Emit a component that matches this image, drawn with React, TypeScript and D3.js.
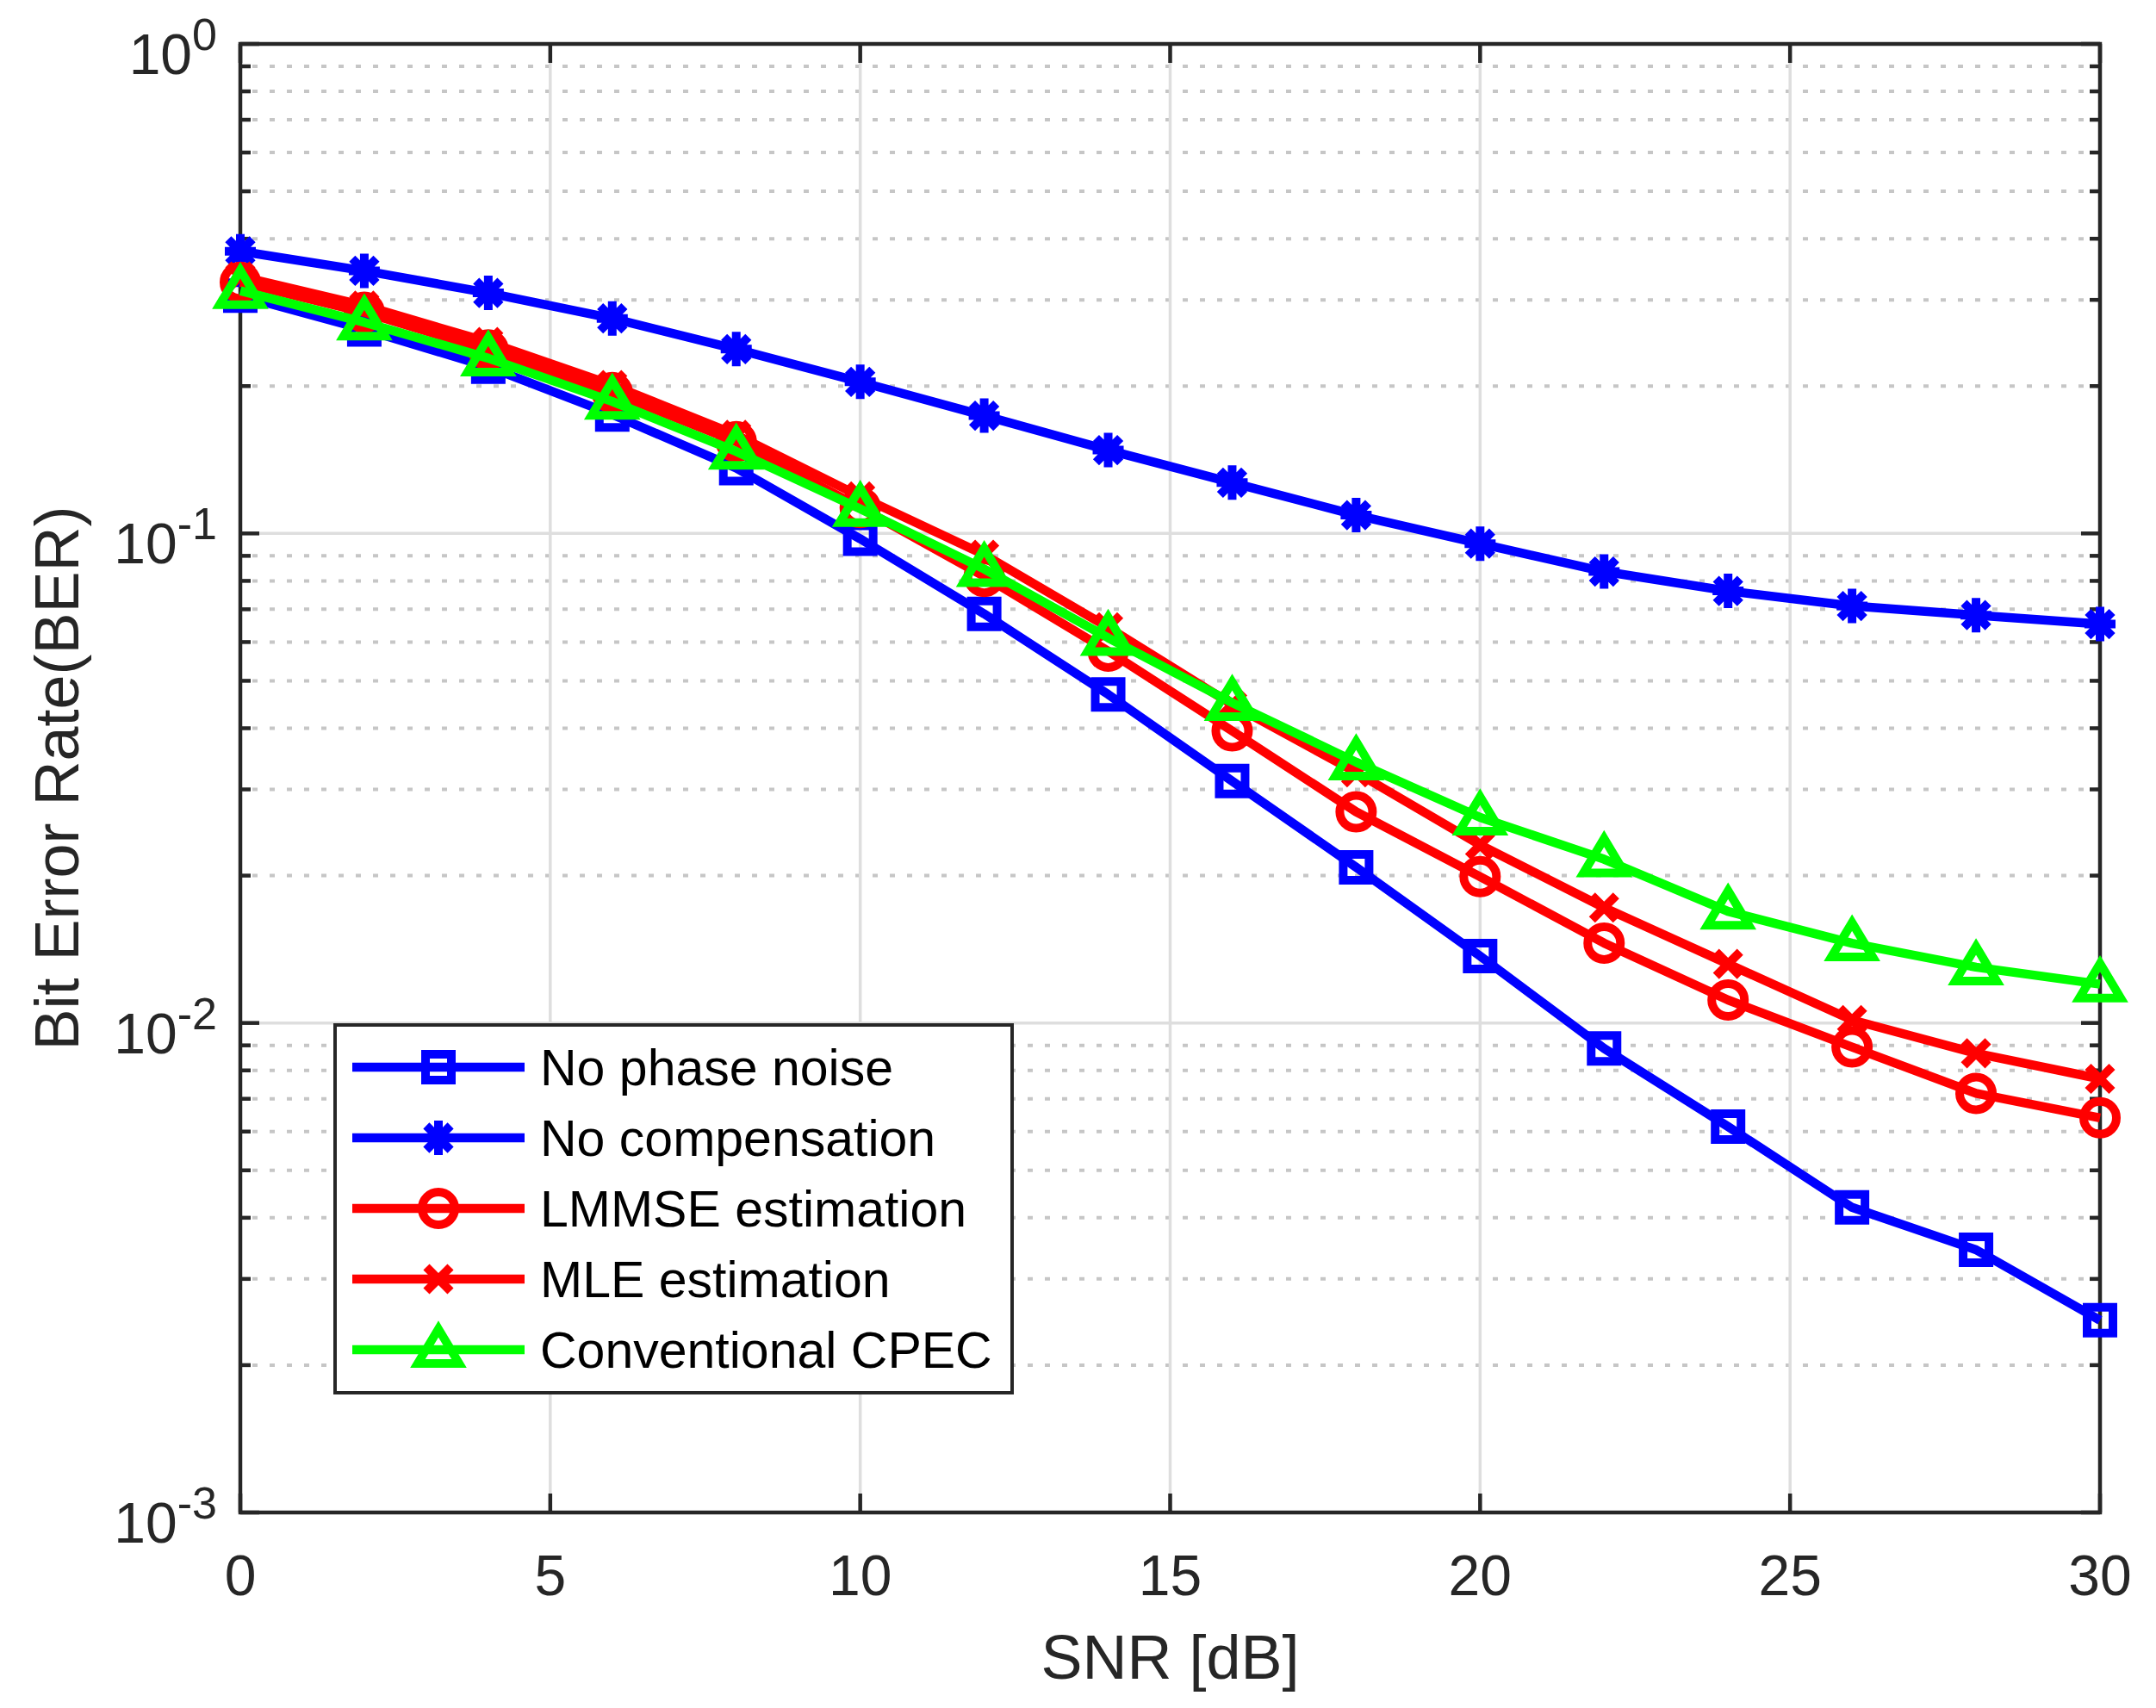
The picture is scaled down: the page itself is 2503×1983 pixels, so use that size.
import React, { useRef, useEffect } from 'react';
import * as d3 from 'd3';

const snrDb = [0, 2, 4, 6, 8, 10, 12, 14, 16, 18, 20, 22, 24, 26, 28, 30];
const noPhaseNoise = [0.306, 0.261, 0.219, 0.175, 0.136, 0.0975, 0.0685, 0.0469, 0.0312, 0.0208, 0.0137, 0.00887, 0.00614, 0.0042, 0.00344, 0.00247];
const noCompensation = [0.377, 0.344, 0.31, 0.275, 0.238, 0.204, 0.174, 0.148, 0.127, 0.109, 0.0953, 0.0836, 0.0763, 0.0711, 0.0681, 0.0653];
const lmmseEst = [0.326, 0.283, 0.237, 0.194, 0.154, 0.113, 0.0817, 0.0575, 0.0395, 0.027, 0.0199, 0.01456, 0.01114, 0.00893, 0.00718, 0.0064];
const mleEst = [0.335, 0.292, 0.246, 0.201, 0.159, 0.119, 0.0905, 0.0643, 0.0447, 0.0325, 0.0231, 0.0172, 0.0132, 0.01014, 0.00867, 0.00769];
const conventionalCpec = [0.313, 0.27, 0.228, 0.186, 0.147, 0.1123, 0.0846, 0.0612, 0.0451, 0.0341, 0.0263, 0.0216, 0.0169, 0.01455, 0.013, 0.012];

const seriesNames = ['No phase noise', 'No compensation', 'LMMSE estimation', 'MLE estimation', 'Conventional CPEC'];
const seriesColors = ['#0000ff', '#0000ff', '#ff0000', '#ff0000', '#00ff00'];
const seriesMarkers = ['square', 'asterisk', 'circle', 'cross', 'triangle'];
const seriesValues = [noPhaseNoise, noCompensation, lmmseEst, mleEst, conventionalCpec];

const xTicks = [0, 5, 10, 15, 20, 25, 30];
const yExponents = [0, -1, -2, -3];

const W = 2503;
const H = 1983;
const margin = { top: 51, right: 65, bottom: 227, left: 279 };
const FONT = '"Liberation Sans", Arial, Helvetica, sans-serif';
const AXIS_COLOR = '#262626';

function markerPath(kind: string) {
  if (kind === 'square') return 'M-15,-15H15V15H-15Z';
  if (kind === 'triangle') return 'M0,-24L24,16L-24,16Z';
  if (kind === 'asterisk') return 'M0,-20V20M-18,0H18M-14.1,-14.1L14.1,14.1M-14.1,14.1L14.1,-14.1';
  if (kind === 'cross') return 'M-14,-14L14,14M-14,14L14,-14';
  return '';
}

function drawMarker(g: any, kind: string, color: string, x: number, y: number) {
  if (kind === 'circle') {
    g.append('circle')
      .attr('cx', x).attr('cy', y).attr('r', 19)
      .attr('fill', 'none').attr('stroke', color).attr('stroke-width', 10);
  } else {
    g.append('path')
      .attr('d', markerPath(kind))
      .attr('transform', `translate(${x},${y})`)
      .attr('fill', 'none')
      .attr('stroke', color)
      .attr('stroke-width', 10)
      .attr('stroke-linejoin', 'miter')
      .attr('stroke-miterlimit', 10);
  }
}

function BerChart() {
  const svgRef = useRef<SVGSVGElement | null>(null);

  useEffect(() => {
    drawChart();
  }, []);

  function drawChart() {
    const svg = d3.select(svgRef.current);
    svg.selectAll('*').remove();

    const x0 = margin.left, x1 = W - margin.right;
    const y0 = H - margin.bottom, y1 = margin.top;

    const xScale = d3.scaleLinear().domain([0, 30]).range([x0, x1]);
    const yScale = d3.scaleLog().domain([1e-3, 1]).range([y0, y1]);

    svg.append('rect').attr('width', W).attr('height', H).attr('fill', '#ffffff');

    // minor grid (dotted)
    const minorVals: number[] = [];
    [-3, -2, -1].forEach(e => {
      for (let m = 2; m <= 9; m++) minorVals.push(m * Math.pow(10, e));
    });
    svg.append('g').selectAll('line').data(minorVals).join('line')
      .attr('x1', x0 + 14).attr('x2', x1)
      .attr('y1', d => yScale(d)).attr('y2', d => yScale(d))
      .attr('stroke', '#c6c6c6').attr('stroke-width', 4)
      .attr('stroke-dasharray', '6 14');

    // major grid
    const grid = svg.append('g');
    grid.selectAll('line.v').data(xTicks.slice(1, -1)).join('line')
      .attr('class', 'v')
      .attr('x1', d => xScale(d)).attr('x2', d => xScale(d))
      .attr('y1', y1).attr('y2', y0)
      .attr('stroke', '#dedede').attr('stroke-width', 3.5);
    grid.selectAll('line.h').data([0.1, 0.01]).join('line')
      .attr('class', 'h')
      .attr('x1', x0).attr('x2', x1)
      .attr('y1', d => yScale(d)).attr('y2', d => yScale(d))
      .attr('stroke', '#dedede').attr('stroke-width', 3.5);

    // ticks
    const ticks = svg.append('g').attr('stroke', AXIS_COLOR).attr('stroke-width', 4.5);
    xTicks.forEach(t => {
      const x = xScale(t);
      ticks.append('line').attr('x1', x).attr('x2', x).attr('y1', y0).attr('y2', y0 - 22);
      ticks.append('line').attr('x1', x).attr('x2', x).attr('y1', y1).attr('y2', y1 + 22);
    });
    yExponents.forEach(e => {
      const y = yScale(Math.pow(10, e));
      ticks.append('line').attr('x1', x0).attr('x2', x0 + 22).attr('y1', y).attr('y2', y);
      ticks.append('line').attr('x1', x1).attr('x2', x1 - 22).attr('y1', y).attr('y2', y);
    });
    minorVals.forEach(v => {
      const y = yScale(v);
      ticks.append('line').attr('x1', x0).attr('x2', x0 + 12).attr('y1', y).attr('y2', y);
      ticks.append('line').attr('x1', x1).attr('x2', x1 - 12).attr('y1', y).attr('y2', y);
    });

    // axes box
    svg.append('rect')
      .attr('x', x0).attr('y', y1).attr('width', x1 - x0).attr('height', y0 - y1)
      .attr('fill', 'none').attr('stroke', AXIS_COLOR).attr('stroke-width', 4.5);

    // tick labels
    svg.append('g').selectAll('text').data(xTicks).join('text')
      .attr('x', d => xScale(d)).attr('y', 1852)
      .attr('text-anchor', 'middle')
      .attr('font-family', FONT).attr('font-size', 66).attr('fill', AXIS_COLOR)
      .text(d => String(d));

    yExponents.forEach(e => {
      const t = svg.append('text')
        .attr('x', 252).attr('y', yScale(Math.pow(10, e)) + 35)
        .attr('text-anchor', 'end')
        .attr('font-family', FONT).attr('fill', AXIS_COLOR);
      t.append('tspan').attr('font-size', 66).text('10');
      t.append('tspan').attr('font-size', 52).attr('dy', -28).text(String(e));
    });

    // axis labels
    svg.append('text')
      .attr('x', (x0 + x1) / 2).attr('y', 1949)
      .attr('text-anchor', 'middle')
      .attr('font-family', FONT).attr('font-size', 72).attr('fill', AXIS_COLOR)
      .text('SNR [dB]');
    svg.append('text')
      .attr('transform', `translate(91,${(y0 + y1) / 2}) rotate(-90)`)
      .attr('text-anchor', 'middle')
      .attr('font-family', FONT).attr('font-size', 72).attr('fill', AXIS_COLOR)
      .text('Bit Error Rate(BER)');

    // series
    const line = d3.line<number>()
      .x((d, i) => xScale(snrDb[i]))
      .y(d => yScale(d));

    seriesValues.forEach((vals, si) => {
      const g = svg.append('g');
      g.append('path')
        .datum(vals)
        .attr('d', line)
        .attr('fill', 'none')
        .attr('stroke', seriesColors[si])
        .attr('stroke-width', 10.5)
        .attr('stroke-linejoin', 'round');
      vals.forEach((v, i) => drawMarker(g, seriesMarkers[si], seriesColors[si], xScale(snrDb[i]), yScale(v)));
    });

    // legend
    const lg = svg.append('g');
    lg.append('rect')
      .attr('x', 389).attr('y', 1190).attr('width', 786).attr('height', 427)
      .attr('fill', '#ffffff').attr('stroke', AXIS_COLOR).attr('stroke-width', 4);
    seriesNames.forEach((name, i) => {
      const cy = 1239 + i * 82;
      lg.append('line')
        .attr('x1', 409).attr('x2', 609).attr('y1', cy).attr('y2', cy)
        .attr('stroke', seriesColors[i]).attr('stroke-width', 10.5);
      drawMarker(lg, seriesMarkers[i], seriesColors[i], 509, cy);
      lg.append('text')
        .attr('x', 627).attr('y', cy + 21)
        .attr('font-family', FONT).attr('font-size', 59).attr('fill', '#000000')
        .text(name);
    });
  }

  return (
    <svg ref={svgRef} width={W} height={H} style={{ position: 'absolute', left: 0, top: 0 }} />
  );
}

export default function App() {
  return <BerChart />;
}
